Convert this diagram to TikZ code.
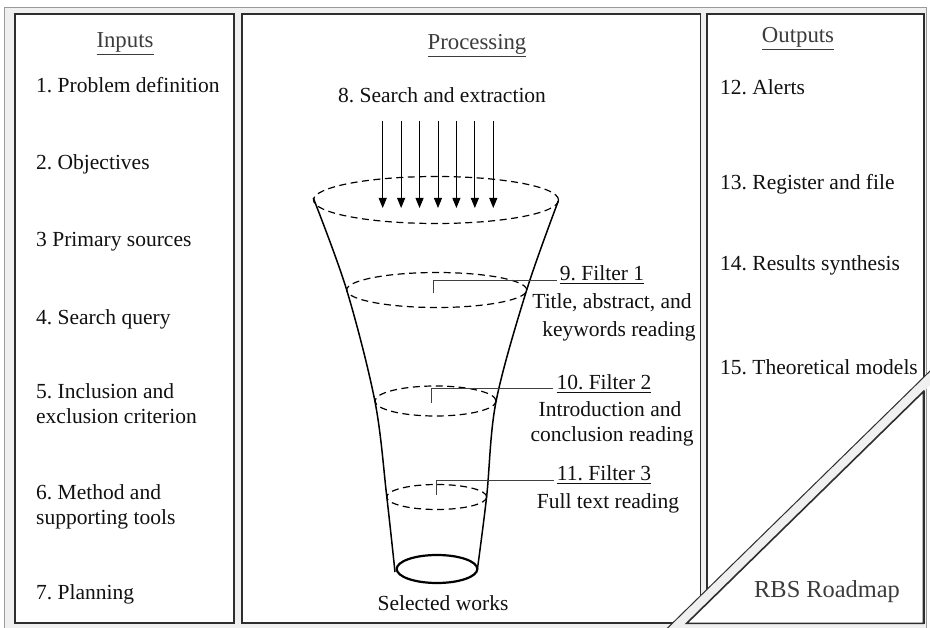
\documentclass[tikz,border=0pt]{standalone}
\usepackage{fontspec}
\setmainfont{Liberation Serif}
\usetikzlibrary{arrows.meta}

\definecolor{panelline}{HTML}{2E2E2E}
\definecolor{framefill}{HTML}{F0F0F0}
\definecolor{frameline}{HTML}{9A9A9A}
\definecolor{itemtext}{HTML}{111111}
\definecolor{headtext}{HTML}{3C3C3C}

\begin{document}
\frenchspacing
\begin{tikzpicture}[x=1pt,y=-1pt,
  panel/.style={draw=panelline, line width=1.8pt, fill=white},
  item/.style={anchor=base west, inner sep=0pt, text=itemtext, font=\fontsize{21.5}{25}\selectfont},
  heading/.style={anchor=base, inner sep=0pt, text=headtext, font=\fontsize{22.8}{26}\selectfont},
  flabel/.style={anchor=base, inner sep=0pt, text=itemtext, font=\fontsize{21.5}{25}\selectfont},
  rim/.style={draw=black, line width=1.2pt, dash pattern=on 7pt off 4.5pt},
  wall/.style={draw=black, line width=1.5pt},
  leader/.style={draw=black!75, line width=0.9pt},
  feed/.style={draw=black, line width=0.9pt, -{Triangle[width=8pt,length=10pt]}},
]
\useasboundingbox (0,0) rectangle (930,628);
\clip (0,0) rectangle (930,628);

% outer frame
\fill[white] (0,0) rectangle (930,628);
\draw[frameline, fill=framefill, line width=1pt] (4.5,7.5) rectangle (926.5,640);

% three panels
\draw[panel] (15,14) rectangle (234,623);
\draw[panel] (242,14) rectangle (700.5,623);
\draw[panel] (707,14) rectangle (924,623);

% Inputs column
\node[heading] (hin) at (125,48) {\underline{Inputs}};
\node[item] (i1) at (36,93) {1. Problem definition};
\node[item] (i2) at (36,170) {2. Objectives};
\node[item] (i3) at (36,247) {3 Primary sources};
\node[item] (i4) at (36,325) {4. Search query};
\node[item] (i5a) at (36,399) {5. Inclusion and};
\node[item] (i5b) at (36,424) {exclusion criterion};
\node[item] (i6a) at (36,500) {6. Method and};
\node[item] (i6b) at (36,524) {supporting tools};
\node[item] (i7) at (36,599) {7. Planning};

% Processing column
\node[heading] (hproc) at (477,50) {\underline{Processing}};
\node[item] (search) at (338,103) {8. Search and extraction};

% incoming records
\foreach \i [evaluate=\i as \xx using 382.7+18.43*\i] in {0,...,6} {
  \coordinate (s\i) at (\xx,121);
  \coordinate (e\i) at (\xx,208);
  \draw[feed] (s\i) -- (e\i);
}

% funnel walls
\draw[wall] plot[smooth, tension=0.55] coordinates
  {(313.3,198) (346.7,290) (375,401.7) (386.7,496) (395,572)};
\draw[wall] plot[smooth, tension=0.55] coordinates
  {(558.3,201) (526.7,290) (496,401.7) (486.7,496) (477.3,570)};

% funnel levels
\draw[rim] (436,200) ellipse [x radius=122.5pt, y radius=23.5pt];
\draw[rim] (436.7,290) ellipse [x radius=90pt, y radius=17.5pt];
\draw[rim] (435.5,401) ellipse [x radius=60.5pt, y radius=15pt];
\draw[rim] (436.7,497) ellipse [x radius=50pt, y radius=12.5pt];
\draw[black, line width=2.2pt] (437,569) ellipse [x radius=40.3pt, y radius=14pt];
\node[flabel] (sel) at (443,610) {Selected works};

% filter labels
\node[flabel] (f1) at (602,281) {\underline{9. Filter 1}};
\node[flabel] (f1b) at (612,309) {Title, abstract, and};
\node[flabel] (f1c) at (619,337) {keywords reading};
\node[flabel] (f2) at (604,390) {\underline{10. Filter 2}};
\node[flabel] (f2b) at (610,417) {Introduction and};
\node[flabel] (f2c) at (612,442) {conclusion reading};
\node[flabel] (f3) at (604,481) {\underline{11. Filter 3}};
\node[flabel] (f3b) at (608,508) {Full text reading};

% leaders from each level to its label
\coordinate (t1) at (433.3,293.5);
\coordinate (t2) at (431.7,402.7);
\coordinate (t3) at (436.7,495);
\draw[leader] (t1) |- ([shift={(-3pt,1pt)}]f1.base west);
\draw[leader] (t2) |- ([shift={(-3pt,2pt)}]f2.base west);
\draw[leader] (t3) |- ([shift={(-3pt,1pt)}]f3.base west);

% Outputs column
\node[heading] (hout) at (798,43) {\underline{Outputs}};
\node[item] (o12) at (720,95) {12. Alerts};
\node[item] (o13) at (720,190) {13. Register and file};
\node[item] (o14) at (720,271) {14. Results synthesis};
\node[item] (o15) at (720,375) {15. Theoretical models};

% corner fold with the roadmap title
\fill[framefill] (655.3,640) -- (935,366.2) -- (935,380.2) -- (669.6,640) -- cycle;
\draw[panelline, line width=1pt] (655.3,640) -- (935,366.2);
\draw[panelline, line width=1.6pt, fill=white] (686.7,623.3) -- (923.3,623.3) -- (923.3,391.7) -- cycle;
\node[item, text=headtext, font=\fontsize{24.4}{28}\selectfont] (rbs) at (754,597) {RBS Roadmap};
\end{tikzpicture}
\end{document}
